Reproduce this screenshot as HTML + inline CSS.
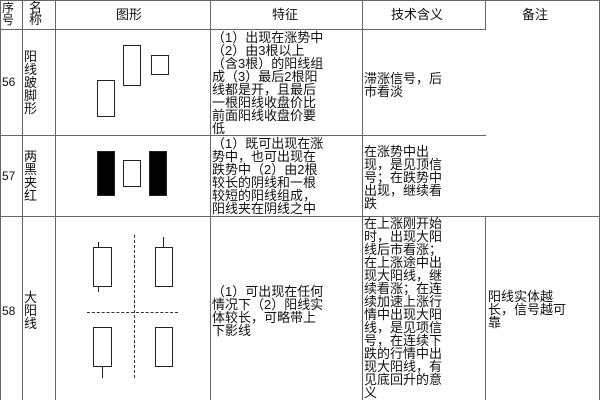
<!DOCTYPE html>
<html><head><meta charset="utf-8"><style>
body{margin:0;width:600px;height:400px;background:#fff;position:relative;overflow:hidden;font-family:"Liberation Sans","Noto Sans CJK SC",sans-serif;color:#111}
.l{position:absolute;background:#666}
.t{position:absolute;font-size:13px;line-height:13px;white-space:nowrap}
.c{position:absolute;border:1.5px solid #222;box-sizing:border-box;background:#fff}
.b{background:#000}
.w{position:absolute;width:1px;background:#222}
</style></head><body>
<!-- vertical lines -->
<div class="l" style="left:0;top:0;width:1px;height:400px"></div>
<div class="l" style="left:22px;top:0;width:1px;height:400px"></div>
<div class="l" style="left:55px;top:0;width:1px;height:400px"></div>
<div class="l" style="left:210px;top:0;width:1px;height:400px"></div>
<div class="l" style="left:362px;top:0;width:1px;height:400px"></div>
<div class="l" style="left:485px;top:0;width:1px;height:30px"></div>
<div class="l" style="left:485px;top:216px;width:1px;height:184px"></div>
<div class="l" style="left:599px;top:0;width:1px;height:400px"></div>
<!-- horizontal lines -->
<div class="l" style="left:0;top:0;width:600px;height:1px"></div>
<div class="l" style="left:0;top:29px;width:486px;height:1px"></div>
<div class="l" style="left:0;top:135px;width:486px;height:1px"></div>
<div class="l" style="left:0;top:216px;width:600px;height:1px"></div>
<!-- header -->
<div class="t" style="left:2px;top:2px;font-size:12px;line-height:12px">序<br>号</div>
<div class="t" style="left:29px;top:2px;font-size:13px;line-height:12px">名<br>称</div>
<div class="t" style="left:116px;top:8px">图形</div>
<div class="t" style="left:272px;top:8px">特征</div>
<div class="t" style="left:391px;top:8px">技术含义</div>
<div class="t" style="left:522px;top:8px">备注</div>
<!-- row 56 -->
<div class="t" style="left:2px;top:76px;font-size:12px">56</div>
<div class="t" style="left:24px;top:50px">阳<br>线<br>跛<br>脚<br>形</div>
<div class="c" style="left:97px;top:80px;width:18px;height:37px"></div>
<div class="c" style="left:123px;top:45px;width:18px;height:41px"></div>
<div class="c" style="left:151px;top:55px;width:18px;height:20px"></div>
<div class="t" style="left:212px;top:31px">（1）出现在涨势中<br>（2）由3根以上<br>（含3根）的阳线组<br>成（3）最后2根阳<br>线都是开，且最后<br>一根阳线收盘价比<br>前面阳线收盘价要<br>低</div>
<div class="t" style="left:364px;top:72px">滞涨信号，后<br>市看淡</div>
<!-- row 57 -->
<div class="t" style="left:2px;top:170px;font-size:12px">57</div>
<div class="t" style="left:24px;top:150px">两<br>黑<br>夹<br>红</div>
<div class="c b" style="left:97px;top:151px;width:18px;height:45px"></div>
<div class="c" style="left:123px;top:160px;width:18px;height:27px"></div>
<div class="c b" style="left:149px;top:151px;width:18px;height:45px"></div>
<div class="t" style="left:212px;top:137px">（1）既可出现在涨<br>势中，也可出现在<br>跌势中（2）由2根<br>较长的阴线和一根<br>较短的阳线组成，<br>阳线夹在阴线之中</div>
<div class="t" style="left:364px;top:145px">在涨势中出<br>现，是见顶信<br>号；在跌势中<br>出现，继续看<br>跌</div>
<!-- row 58 -->
<div class="t" style="left:2px;top:305px;font-size:12px">58</div>
<div class="t" style="left:24px;top:291px">大<br>阳<br>线</div>
<div class="w" style="left:98px;top:242px;height:50px"></div>
<div class="c" style="left:93px;top:247px;width:19px;height:40px"></div>
<div class="w" style="left:163px;top:237px;height:15px"></div>
<div class="c" style="left:155px;top:247px;width:18px;height:40px"></div>
<div class="w" style="left:102px;top:360px;height:18px"></div>
<div class="c" style="left:93px;top:327px;width:19px;height:40px"></div>
<div class="c" style="left:155px;top:327px;width:18px;height:40px"></div>
<div style="position:absolute;left:134px;top:235px;height:143px;border-left:1px dashed #333"></div>
<div style="position:absolute;left:87px;top:312px;width:91px;border-top:1px dashed #333"></div>
<div class="t" style="left:212px;top:285px">（1）可出现在任何<br>情况下（2）阳线实<br>体较长，可略带上<br>下影线</div>
<div class="t" style="left:364px;top:217px">在上涨刚开始<br>时，出现大阳<br>线后市看涨；<br>在上涨途中出<br>现大阳线，继<br>续看涨；在连<br>续加速上涨行<br>情中出现大阳<br>线，是见项信<br>号，在连续下<br>跌的行情中出<br>现大阳线，有<br>见底回升的意<br>义</div>
<div class="t" style="left:488px;top:290px">阳线实体越<br>长，信号越可<br>靠</div>
</body></html>
